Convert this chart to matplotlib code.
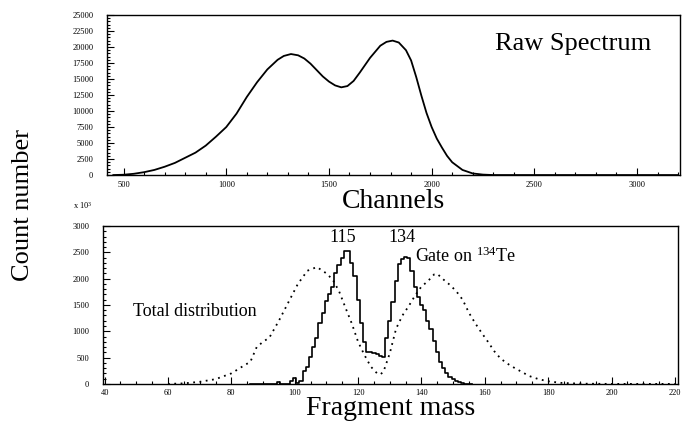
import matplotlib
matplotlib.use("Agg")
import matplotlib.pyplot as plt
from matplotlib.ticker import MultipleLocator

# raw spectrum (channel, counts)
channels = [450, 500, 550, 600, 650, 700, 750, 800, 850, 900, 950, 1000, 1050, 1100,
            1150, 1200, 1250, 1280, 1315, 1350, 1380, 1410, 1440, 1470, 1500, 1530, 1560, 1590,
            1620, 1650, 1700, 1750, 1780, 1810, 1840, 1875, 1900, 1925, 1950, 1975,
            2000, 2025, 2050, 2075, 2100, 2150, 2200, 2250, 2300, 3200]
raw_counts = [0, 50, 200, 450, 800, 1300, 1900, 2700, 3500, 4600, 6000, 7500, 9600, 12200,
              14500, 16500, 18000, 18600, 18900, 18700, 18200, 17400, 16400, 15400, 14600, 14000, 13700, 13900,
              14700, 16000, 18300, 20200, 20800, 21000, 20700, 19500, 17900, 15300, 12400, 9700,
              7500, 5700, 4300, 3000, 2000, 800, 250, 70, 0, 0]

# mass histogram gated on 134Te (bin centres, counts)
gate_mass = list(range(86, 157))
gate_counts = [0, 0, 0, 0, 0, 0, 0, 0, 0, 40, 0, 0, 0, 60, 120, 20, 60, 250, 330, 520,
               700, 880, 1150, 1350, 1580, 1700, 1850, 2100, 2250, 2400, 2520, 2520, 2300, 2050, 1600,
               1150, 800, 600, 600, 590, 560, 530, 520, 880, 1200, 1550, 1950, 2280, 2380, 2420,
               2400, 2150, 1850, 1650, 1500, 1400, 1200, 1050, 820, 600, 420, 300, 200, 130, 90,
               50, 30, 10, 0, 0, 0]

# total distribution (dotted)
total_mass = [60, 65, 70, 75, 80, 84, 86, 88, 90, 92, 95, 98, 101, 104, 107, 110, 112, 114,
              116, 118, 120, 122, 124, 126, 127, 128, 130, 132, 134, 136, 138, 140, 142, 144,
              145, 147, 149, 151, 153, 155, 157, 159, 161, 163, 165, 168, 171, 174, 177, 180,
              184, 190, 200, 220]
total_counts = [0, 10, 40, 90, 200, 350, 420, 700, 800, 880, 1200, 1550, 1900, 2150, 2220, 2100,
                1980, 1760, 1450, 1150, 800, 550, 330, 200, 180, 230, 580, 1050, 1300, 1480, 1680,
                1850, 1950, 2080, 2090, 1980, 1880, 1760, 1600, 1350, 1150, 970, 800, 620, 480,
                350, 250, 150, 90, 50, 20, 5, 0, 0]

serif = "Liberation Serif"


def style_axis(ax):
    ax.tick_params(which="both", direction="in", top=False, right=False,
                   labelsize=6, width=0.8)
    ax.tick_params(which="major", length=5)
    ax.tick_params(which="minor", length=2.5)
    for lab in ax.get_xticklabels() + ax.get_yticklabels():
        lab.set_family(serif)
    for s in ax.spines.values():
        s.set_linewidth(1.0)


def main():
    plt.rcParams["font.family"] = serif
    plt.rcParams["mathtext.fontset"] = "custom"
    plt.rcParams["mathtext.rm"] = serif
    plt.rcParams["mathtext.it"] = serif + ":italic"
    fig = plt.figure(figsize=(6.87, 4.28), dpi=100)

    ax1 = fig.add_axes([0.156, 0.591, 0.834, 0.374])
    ax1.plot(channels, raw_counts, color="black", lw=1.3)
    ax1.set_xlim(420, 3210)
    ax1.set_ylim(0, 25000)
    ax1.xaxis.set_major_locator(MultipleLocator(500))
    ax1.xaxis.set_minor_locator(MultipleLocator(100))
    ax1.yaxis.set_major_locator(MultipleLocator(2500))
    ax1.yaxis.set_minor_locator(MultipleLocator(500))
    style_axis(ax1)
    ax1.tick_params(axis="y", pad=10)
    ax1.tick_params(axis="x", pad=4)
    ax1.text(0.95, 0.82, "Raw Spectrum", transform=ax1.transAxes, ha="right",
             va="center", fontsize=19)
    ax1.set_xlabel("Channels", fontsize=20, labelpad=0)

    ax2 = fig.add_axes([0.15, 0.103, 0.837, 0.369])
    ax2.step(gate_mass, gate_counts, where="mid", color="black", lw=1.2)
    ax2.plot(total_mass, total_counts, color="black", lw=1.3, ls=(0, (1, 2.5)))
    ax2.set_xlim(39.5, 221)
    ax2.set_ylim(0, 3000)
    ax2.xaxis.set_major_locator(MultipleLocator(20))
    ax2.xaxis.set_minor_locator(MultipleLocator(5))
    ax2.yaxis.set_major_locator(MultipleLocator(500))
    ax2.yaxis.set_minor_locator(MultipleLocator(100))
    style_axis(ax2)
    ax2.tick_params(axis="y", pad=10)
    ax2.tick_params(axis="x", pad=4)
    ax2.set_xlabel("Fragment mass", fontsize=20, labelpad=-1)

    ax2.text(115, 2780, "115", ha="center", va="center", fontsize=13)
    ax2.text(134, 2780, "134", ha="center", va="center", fontsize=13)
    ax2.text(138, 2420, "Gate on $^{134}$Te", ha="left", va="center", fontsize=13)
    ax2.text(49, 1370, "Total distribution", ha="left", va="center", fontsize=13)

    fig.text(0.12, 0.52, "x 10$^{3}$", fontsize=6, ha="center", va="center")
    fig.text(0.033, 0.52, "Count number", rotation=90, fontsize=19,
             ha="center", va="center")

    fig.savefig("out.png", dpi=100)


if __name__ == "__main__":
    main()
